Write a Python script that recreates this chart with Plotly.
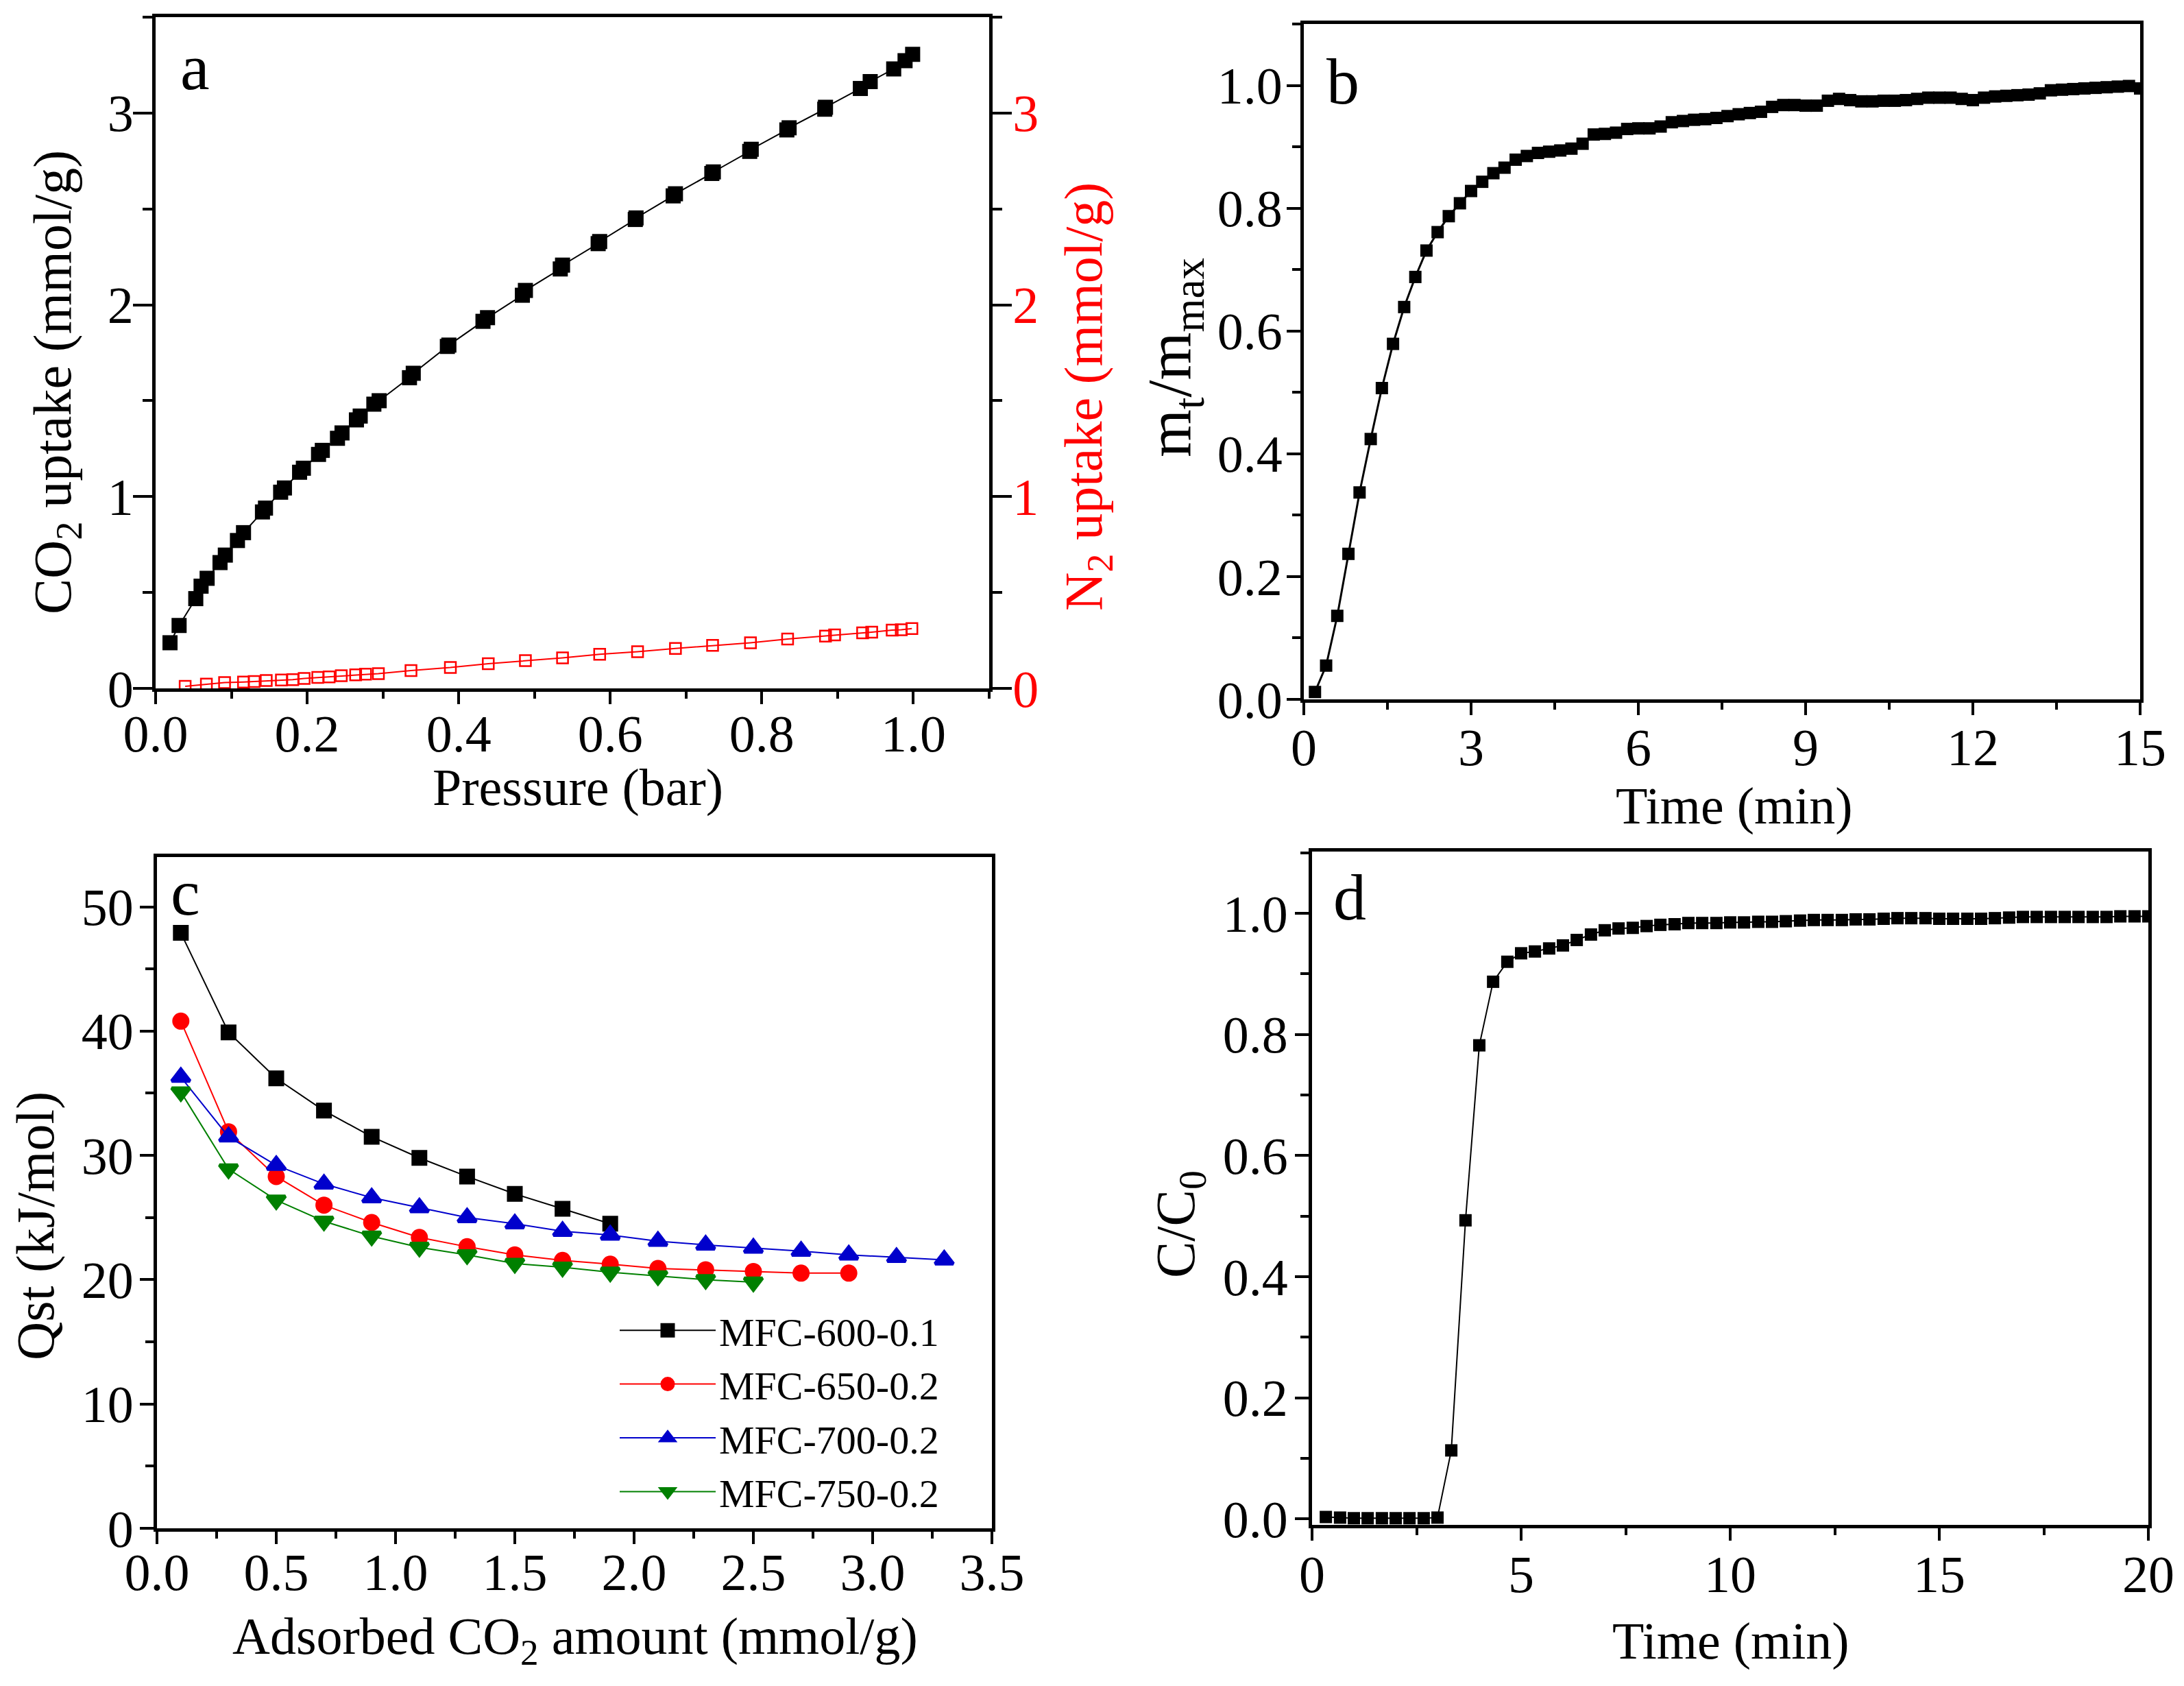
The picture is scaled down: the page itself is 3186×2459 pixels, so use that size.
import plotly.graph_objs as go
from plotly.subplots import make_subplots

# panel a
p_co2 = [.019,.031,.053,.060,.068,.085,.092,.108,.116,.141,.145,.165,.170,.190,.195,.215,.220,.240,.246,.265,.270,.288,.295,.335,.340,.385,.387,.432,.438,.484,.488,.534,.537,.584,.586,.633,.634,.683,.686,.734,.736,.784,.786,.833,.836,.883,.884,.930,.943,.974,.989,.999]
co2 = [.238,.328,.468,.533,.574,.656,.695,.771,.812,.920,.940,1.023,1.045,1.127,1.148,1.220,1.241,1.304,1.332,1.400,1.420,1.482,1.500,1.620,1.643,1.783,1.790,1.914,1.933,2.050,2.075,2.187,2.207,2.319,2.330,2.445,2.453,2.568,2.579,2.685,2.693,2.800,2.811,2.912,2.923,3.020,3.030,3.128,3.164,3.230,3.273,3.306]
p_n2 = [.039,.067,.091,.116,.130,.146,.166,.181,.196,.214,.229,.245,.264,.277,.294,.337,.389,.439,.488,.537,.586,.636,.686,.735,.785,.834,.884,.896,.933,.945,.972,.984,.998]
n2 = [.011,.022,.030,.033,.036,.041,.044,.046,.052,.057,.060,.066,.071,.074,.077,.093,.109,.129,.145,.159,.178,.191,.208,.224,.238,.257,.273,.279,.290,.293,.304,.306,.312]

# panel b
t_b = [.2,.4,.6,.8,1.0,1.2,1.4,1.6,1.8,2.0,2.2,2.4,2.6,2.8,3.0,3.2,3.4,3.6,3.8,4.0,4.2,4.4,4.6,4.8,5.0,5.2,5.4,5.6,5.8,6.0,6.2,6.4,6.6,6.8,7.0,7.2,7.4,7.6,7.8,8.0,8.2,8.4,8.6,8.8,9.0,9.2,9.4,9.6,9.8,10.0,10.2,10.4,10.6,10.8,11.0,11.2,11.4,11.6,11.8,12.0,12.2,12.4,12.6,12.8,13.0,13.2,13.4,13.6,13.8,14.0,14.2,14.4,14.6,14.8,15.0]
m_b = [.012,.055,.136,.237,.337,.424,.507,.579,.639,.688,.731,.761,.787,.808,.828,.843,.857,.866,.879,.885,.890,.892,.894,.897,.905,.920,.921,.923,.929,.930,.930,.933,.940,.942,.944,.945,.947,.950,.953,.955,.957,.965,.968,.968,.967,.967,.975,.978,.976,.974,.974,.975,.975,.976,.978,.980,.980,.980,.978,.976,.980,.982,.983,.984,.985,.987,.992,.993,.994,.995,.996,.997,.998,.999,.995]

# panel c
q_x = [.1,.3,.5,.7,.9,1.1,1.3,1.5,1.7,1.9,2.1,2.3,2.5,2.7,2.9,3.1,3.3]
q_600 = [47.9,39.9,36.2,33.6,31.5,29.8,28.3,26.9,25.7,24.5]
q_650 = [40.8,31.9,28.3,26.0,24.6,23.4,22.65,22.0,21.55,21.25,20.9,20.8,20.66,20.53,20.53]
q_700 = [36.3,31.5,29.2,27.7,26.6,25.8,25.0,24.5,23.9,23.6,23.1,22.8,22.55,22.3,22.0,21.8,21.6]
q_750 = [35.1,28.9,26.4,24.7,23.5,22.6,22.0,21.3,21.0,20.6,20.3,20.0,19.8]

# panel d
t_d = [.33,.67,1,1.33,1.67,2,2.33,2.67,3,3.33,3.67,4,4.33,4.67,5,5.33,5.67,6,6.33,6.67,7,7.33,7.67,8,8.33,8.67,9,9.33,9.67,10,10.33,10.67,11,11.33,11.67,12,12.33,12.67,13,13.33,13.67,14,14.33,14.67,15,15.33,15.67,16,16.33,16.67,17,17.33,17.67,18,18.33,18.67,19,19.33,19.67,20]
c_d = [.003,.002,.001,.001,.001,.001,.001,.001,.002,.113,.493,.782,.887,.920,.934,.937,.942,.947,.956,.965,.972,.975,.976,.979,.981,.982,.984,.984,.984,.985,.985,.986,.986,.987,.988,.989,.989,.989,.990,.990,.991,.992,.992,.992,.991,.991,.991,.991,.992,.993,.994,.994,.994,.994,.994,.994,.994,.995,.995,.995]

# the page has an 8px body margin, so the figure is a bit smaller than the window
OFF = 8
W, H = 3186 - 2 * OFF, 2459 - 2 * OFF
FONT = "Liberation Serif"


def fx(p):
    return (p - OFF) / W


def fy(p):
    return 1 - (p - OFF) / H


fig = make_subplots(rows=2, cols=2, specs=[[{"secondary_y": True}, {}], [{}, {}]])

fig.add_trace(go.Scatter(x=p_co2, y=co2, mode="lines+markers", showlegend=False,
                         line=dict(color="black", width=2),
                         marker=dict(symbol="square", size=22, color="black")), 1, 1, secondary_y=False)
fig.add_trace(go.Scatter(x=p_n2, y=n2, mode="lines+markers", showlegend=False,
                         line=dict(color="red", width=2),
                         marker=dict(symbol="square-open", size=16, color="red", line=dict(width=2.5))), 1, 1, secondary_y=True)
fig.add_trace(go.Scatter(x=t_b, y=m_b, mode="lines+markers", showlegend=False,
                         line=dict(color="black", width=3),
                         marker=dict(symbol="square", size=18, color="black")), 1, 2)

# marker outline keeps the legend symbols large, the legend caps marker size at 16
series_c = [("MFC-600-0.1", q_600, "black", "square", 18),
            ("MFC-650-0.2", q_650, "red", "circle", 20),
            ("MFC-700-0.2", q_700, "#0000cc", "triangle-up", 23),
            ("MFC-750-0.2", q_750, "#008000", "triangle-down", 23)]
for name, vals, col, sym, sz in series_c:
    fig.add_trace(go.Scatter(x=q_x[:len(vals)], y=vals, mode="lines+markers", name=name, legendgroup=name,
                             line=dict(color=col, width=2),
                             marker=dict(symbol=sym, size=sz, color=col, line=dict(color=col, width=5))), 2, 1)

fig.add_trace(go.Scatter(x=t_d, y=c_d, mode="lines+markers", showlegend=False,
                         line=dict(color="black", width=2),
                         marker=dict(symbol="square", size=18, color="black")), 2, 2)


def axis(dtick, minor, rng, domain, ticklen, minorlen, standoff, fmt=None, **kw):
    d = dict(range=rng, domain=domain, dtick=dtick, tick0=0, ticks="outside", ticklen=ticklen, tickwidth=4,
             tickcolor="black", showline=True, linecolor="black", linewidth=5, showgrid=False, zeroline=False,
             mirror=True, automargin=False, tickfont=dict(size=76, color="black"), ticklabelstandoff=standoff,
             minor=dict(dtick=minor, tick0=0, ticks="outside", ticklen=minorlen, tickwidth=4, tickcolor="black",
                        showgrid=False))
    if fmt:
        d["tickformat"] = fmt
    d.update(kw)
    return d


fig.update_xaxes(**axis(.2, .1, [0, 1.1], [fx(227), fx(1443)], 18, 10, -22, ".1f"), row=1, col=1)
fig.update_yaxes(**axis(1, .5, [0, 3.5], [fy(1004), fy(25)], 28, 14, -16, mirror=False), row=1, col=1, secondary_y=False)
fig.update_yaxes(**axis(1, .5, [0, 3.5], [fy(1004), fy(25)], 28, 14, -14, mirror=False, side="right",
                        tickfont=dict(size=76, color="red")), row=1, col=1, secondary_y=True)

fig.update_xaxes(**axis(3, 1.5, [0, 15], [fx(1902), fx(3122)], 18, 10, -18), row=1, col=2)
fig.update_yaxes(**axis(.2, .1, [0, 1.1], [fy(1020), fy(35)], 20, 12, -9, ".1f"), row=1, col=2)

fig.update_xaxes(**axis(.5, .25, [0, 3.5], [fx(229), fx(1447)], 18, 10, -24, ".1f"), row=2, col=1)
fig.update_yaxes(**axis(10, 5, [0, 54], [fy(2229), fy(1250)], 20, 12, -6), row=2, col=1)

fig.update_xaxes(**axis(5, 2.5, [0, 20], [fx(1914), fx(3134)], 18, 10, -16), row=2, col=2)
fig.update_yaxes(**axis(.2, .1, [-.01, 1.102], [fy(2224), fy(1242)], 20, 12, -5, ".1f"), row=2, col=2)

# axis titles and panel letters sit at the places
labels = [("Pressure (bar)", 843, 1148, 76, "black", 0),
          ("CO<sub>2</sub> uptake (mmol/g)", 82, 558, 78, "black", -90),
          ("N<sub>2</sub> uptake (mmol/g)", 1586, 579, 78, "red", -90),
          ("Time (min)", 2530, 1176, 76, "black", 0),
          ("m<sub>t</sub>/m<sub>max</sub>", 1713, 522, 90, "black", -90),
          ("Adsorbed CO<sub>2</sub> amount (mmol/g)", 839, 2392, 76, "black", 0),
          ("Qst (kJ/mol)", 51, 1788, 78, "black", -90),
          ("Time (min)", 2525, 2393, 76, "black", 0),
          ("C/C<sub>0</sub>", 1721, 1786, 80, "black", -90),
          ("a", 284, 97, 96, "black", 0),
          ("b", 1959, 118, 96, "black", 0),
          ("c", 270, 1301, 96, "black", 0),
          ("d", 1969, 1308, 96, "black", 0)]
for text, lx, ly, size, col, angle in labels:
    fig.add_annotation(text=text, x=fx(lx), y=fy(ly), xref="paper", yref="paper", xanchor="center", yanchor="middle",
                       textangle=angle, showarrow=False, font=dict(size=size, color=col))

fig.update_layout(width=W, height=H, margin=dict(l=0, r=0, t=0, b=0),
                  paper_bgcolor="white", plot_bgcolor="white",
                  font=dict(family=FONT, color="black"),
                  legend=dict(x=fx(899), y=fy(1896), xanchor="left", yanchor="top",
                              bgcolor="rgba(0,0,0,0)", font=dict(size=58), itemwidth=140,
                              tracegroupgap=0))

fig.write_html("out.html")
